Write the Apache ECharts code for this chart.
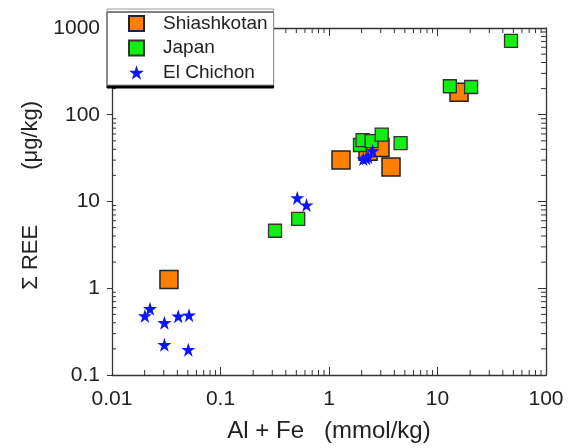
<!DOCTYPE html>
<html>
<head>
<meta charset="utf-8">
<script src="https://cdn.jsdelivr.net/npm/echarts@6/dist/echarts.min.js"></script>
<style>
  html, body { margin: 0; padding: 0; background: #fff; }
  #chart { width: 574px; height: 448px; }
</style>
</head>
<body>
<div id="chart"></div>
<script>
// Al + Fe (mmol/kg) vs total REE (µg/kg)
const shiashkotanX = [0.0335, 1.29, 2.29, 2.95, 3.73, 15.8];
const shiashkotanY = [1.26, 30, 38, 42, 25, 182];

const japanX = [0.318, 0.52, 1.93, 2.04, 2.47, 3.06, 4.57, 13.0, 20.4, 47.6];
const japanY = [4.6, 6.3, 44.8, 51, 49.7, 59, 47, 213, 209, 711];

const elChichonX = [0.0201, 0.0224, 0.0304, 0.0408, 0.0513, 0.0304, 0.0505, 0.51, 0.62, 2.07, 2.2, 2.29, 2.53];
const elChichonY = [0.48, 0.58, 0.40, 0.476, 0.49, 0.223, 0.196, 11, 9.1, 30.8, 31.5, 32.6, 38.3];

const xTickLabels = ['0.01', '0.1', '1', '10', '100'];
const yTickLabels = ['0.1', '1', '10', '100', '1000'];

// minor tick steps inside each decade
const minorSteps = [2, 3, 4, 5, 6, 7, 8, 9];
const xDecades = [0.01, 0.1, 1, 10];
const yDecades = [0.1, 1, 10, 100];

const X_MIN = 0.01, X_MAX = 100, Y_MIN = 0.1, Y_MAX = 1000;

const pairs = (xs, ys) => xs.map((x, i) => [x, ys[i]]);
const minorValues = decades => decades.flatMap(d => minorSteps.map(s => +(d * s).toPrecision(3)));

const STAR = 'path://M50,0 L61.2,34.5 L97.6,34.5 L68.2,55.9 L79.4,90.5 L50,69.1 L20.6,90.5 L31.8,55.9 L2.4,34.5 L38.8,34.5 Z';

const axisColor = '#333';
const labelFont = { fontFamily: 'Liberation Sans, Arial, sans-serif', color: '#222' };

function fmt(list) {
  return function (v) {
    const e = Math.round(Math.log10(v));
    return list.find(t => Math.round(Math.log10(parseFloat(t))) === e) || '';
  };
}

const baseLog = {
  type: 'log',
  logBase: 10,
  splitLine: { show: false },
  axisLine: { show: true, lineStyle: { color: axisColor, width: 1.3 } },
};

// short tick marks on one side of the frame, placed through the axis scales
function minorTickSeries(values, side, len) {
  const data = values.map(v => {
    if (side === 'bottom') return [v, Y_MIN];
    if (side === 'top') return [v, Y_MAX];
    if (side === 'left') return [X_MIN, v];
    return [X_MAX, v];
  });
  return {
    type: 'custom',
    silent: true,
    clip: false,
    z: 1,
    data: data,
    renderItem: function (params, api) {
      const p = api.coord([api.value(0), api.value(1)]);
      let shape;
      if (side === 'bottom') shape = { x1: p[0], y1: p[1], x2: p[0], y2: p[1] - len };
      else if (side === 'top') shape = { x1: p[0], y1: p[1], x2: p[0], y2: p[1] + len };
      else if (side === 'left') shape = { x1: p[0], y1: p[1], x2: p[0] + len, y2: p[1] };
      else shape = { x1: p[0], y1: p[1], x2: p[0] - len, y2: p[1] };
      return { type: 'line', shape: shape, style: { stroke: axisColor, lineWidth: 1 } };
    }
  };
}

const chart = echarts.init(document.getElementById('chart'), null, { renderer: 'canvas' });

chart.setOption({
  animation: false,
  backgroundColor: '#fff',
  grid: { left: 112, right: 28, top: 28, bottom: 69, containLabel: false },
  legend: {
    orient: 'vertical',
    left: 107,
    top: 9,
    padding: [5, 6, 3, 21],
    itemWidth: 15,
    itemHeight: 15,
    itemGap: 5.5,
    backgroundColor: '#fff',
    borderColor: '#999',
    borderWidth: 1,
    shadowColor: '#000',
    shadowBlur: 0,
    shadowOffsetX: 0,
    shadowOffsetY: 3,
    z: 10,
    textStyle: Object.assign({ fontSize: 19, padding: [0, 0, 0, 14] }, labelFont),
    data: ['Shiashkotan', 'Japan', 'El Chichon']
  },
  xAxis: [
    Object.assign({}, baseLog, {
      min: X_MIN, max: X_MAX,
      position: 'bottom',
      name: 'Al + Fe   (mmol/kg)',
      nameLocation: 'middle',
      nameGap: 44,
      nameTextStyle: Object.assign({ fontSize: 24 }, labelFont),
      axisTick: { show: true, inside: true, length: 8, lineStyle: { color: axisColor } },
      axisLabel: Object.assign({ fontSize: 21, margin: 14, formatter: fmt(xTickLabels) }, labelFont)
    }),
    Object.assign({}, baseLog, {
      min: X_MIN, max: X_MAX,
      position: 'top',
      axisTick: { show: true, inside: true, length: 8, lineStyle: { color: axisColor } },
      axisLabel: { show: false }
    })
  ],
  yAxis: [
    Object.assign({}, baseLog, {
      min: Y_MIN, max: Y_MAX,
      position: 'left',
      name: '  Σ REE         (μg/kg)',
      nameLocation: 'middle',
      nameGap: 70,
      nameTextStyle: Object.assign({ fontSize: 22 }, labelFont),
      axisTick: { show: true, inside: false, length: 5, lineStyle: { color: axisColor } },
      axisLabel: Object.assign({ fontSize: 21, margin: 12, formatter: fmt(yTickLabels) }, labelFont)
    }),
    Object.assign({}, baseLog, {
      min: Y_MIN, max: Y_MAX,
      position: 'right',
      axisTick: { show: true, inside: true, length: 8, lineStyle: { color: axisColor } },
      axisLabel: { show: false }
    })
  ],
  series: [
    minorTickSeries(minorValues(xDecades), 'bottom', 5),
    minorTickSeries(minorValues(xDecades), 'top', 5),
    minorTickSeries(minorValues(yDecades), 'left', 4),
    minorTickSeries(minorValues(yDecades), 'right', 5),
    {
      name: 'Shiashkotan',
      type: 'scatter',
      symbol: 'rect',
      symbolSize: 18,
      itemStyle: { color: '#ff8000', borderColor: '#222', borderWidth: 1.5, opacity: 1 },
      data: pairs(shiashkotanX, shiashkotanY),
      z: 2
    },
    {
      name: 'Japan',
      type: 'scatter',
      symbol: 'rect',
      symbolSize: 13,
      itemStyle: { color: '#11ee11', borderColor: '#333', borderWidth: 1.3, opacity: 1 },
      data: pairs(japanX, japanY),
      z: 3
    },
    {
      name: 'El Chichon',
      type: 'scatter',
      symbol: STAR,
      symbolSize: 14,
      itemStyle: { color: '#0a14ff', opacity: 1 },
      data: pairs(elChichonX, elChichonY),
      z: 4
    }
  ]
});
</script>
</body>
</html>
